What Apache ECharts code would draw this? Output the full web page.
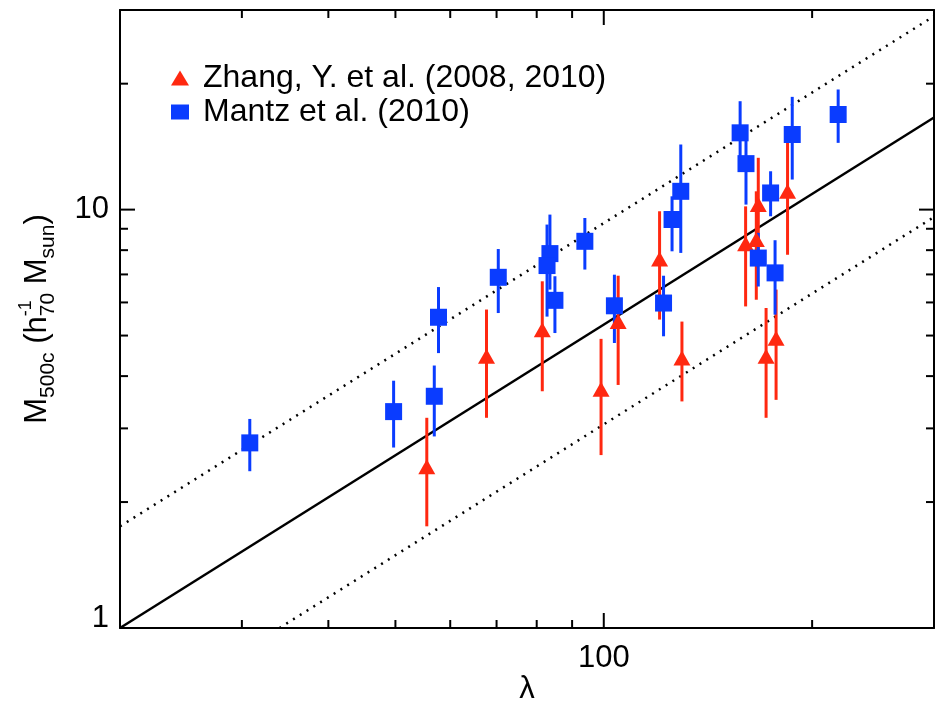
<!DOCTYPE html>
<html><head><meta charset="utf-8">
<script src="https://cdn.jsdelivr.net/npm/echarts@6/dist/echarts.min.js"></script>
<style>html,body{margin:0;padding:0;background:#fff}#c{width:945px;height:709px}</style>
</head><body><div id="c"></div>
<script>
// ---- data ----
const zhangName = 'Zhang, Y. et al. (2008, 2010)';
const mantzName = 'Mantz et al. (2010)';

const zhangLambda = [55.5, 67.7, 81.5, 99.1, 104.9, 120.4, 129.7, 160.3, 167.2, 166.1, 184.3, 171.6, 177.4];
const zhangMass   = [2.43, 4.46, 5.16, 3.72, 5.40, 7.62, 4.42, 8.29, 10.28, 8.48, 11.06, 4.46, 4.93];
const zhangLow    = [1.75, 3.18, 3.68, 2.59, 3.81, 5.46, 3.48, 5.87, 7.80, 6.09, 7.80, 3.18, 3.51];
const zhangHigh   = [3.18, 5.77, 6.74, 4.91, 6.95, 9.91, 5.40, 10.18, 13.3, 11.06, 14.57, 5.82, 6.44];

const mantzLambda = [30.8, 49.7, 56.9, 57.7, 70.4, 83.6, 82.8, 85.0, 93.9, 103.6, 122.0, 125.5, 129.2, 157.4, 160.5, 174.2, 187.2, 218.1, 167.2, 176.8];
const mantzMass   = [2.77, 3.29, 3.58, 5.53, 6.89, 7.85, 7.35, 6.07, 8.40, 5.89, 5.98, 9.47, 11.06, 15.26, 12.88, 10.96, 15.12, 16.88, 7.66, 7.06];
const mantzLow    = [2.37, 2.70, 2.87, 4.54, 5.66, 6.44, 5.55, 5.07, 7.19, 4.80, 4.98, 7.95, 7.88, 13.0, 10.28, 9.64, 11.80, 14.44, 6.55, 5.61];
const mantzHigh   = [3.16, 3.90, 4.24, 6.53, 8.05, 9.73, 9.21, 6.93, 9.55, 6.99, 6.95, 10.76, 14.31, 18.16, 14.71, 12.35, 18.60, 19.37, 8.80, 8.45];

const fitLine   = [[20, 1.0], [300, 16.6]];
const upperLine = [[20, 1.75], [300, 29.0]];
const lowerLine = [[34, 1.0], [300, 9.6]];

const xRange = [20, 300];
const yRange = [1, 30];
const xMajorTicks = [100];
const xMinorTicks = [30, 40, 50, 60, 70, 80, 90, 200];
const yMajorTicks = [10];
const yMinorTicks = [2, 3, 4, 5, 6, 7, 8, 9, 20];

// ---- styles ----
const RED = '#ff2810', BLUE = '#0a3cff';
const FONT = '"Liberation Sans", Helvetica, Arial, sans-serif';
const MAJOR = 15, MINOR = 8;

function isDecade(v) {
  const l = Math.log10(v);
  return Math.abs(l - Math.round(l)) < 1e-6;
}

function buildTitle() {
  const ctx = document.createElement('canvas').getContext('2d');
  const pieces = [
    {t: 'M', size: 31, off: 0},
    {t: '500c', size: 21, off: 1},
    {t: ' (h', size: 31, off: 0},
    {t: '-1', size: 18, off: -1, stack: true},
    {t: '70', size: 21, off: 1},
    {t: ' M', size: 31, off: 0},
    {t: 'sun', size: 21, off: 1},
    {t: ')', size: 31, off: 0}
  ];
  const centers = {'0': 37.5, '1': 48, '-1': 26};
  let pos = 0;
  const children = [];
  pieces.forEach(p => {
    const font = p.size + 'px "Liberation Sans"';
    ctx.font = font;
    const w = ctx.measureText(p.t).width;
    children.push({
      type: 'text', x: pos, y: centers[String(p.off)],
      style: {text: p.t, font: font, fill: '#000', textAlign: 'left', textVerticalAlign: 'middle', align: 'left', verticalAlign: 'middle'}
    });
    if (!p.stack) pos += w;
  });
  return {type: 'group', x: 0, y: 319 + pos / 2, rotation: Math.PI / 2, children: children, silent: true};
}

const chart = echarts.init(document.getElementById('c'), null, {renderer: 'canvas'});

const axisLineStyle = {show: true, onZero: false, lineStyle: {color: '#000', width: 2}};

function errSeries(name, lam, lo, hi, color) {
  return {
    type: 'custom', name: name, silent: true,
    data: lam.map((l, i) => [l, lo[i], hi[i]]),
    encode: {x: 0, y: [1, 2]},
    renderItem: function (params, api) {
      const a = api.coord([api.value(0), api.value(1)]);
      const b = api.coord([api.value(0), api.value(2)]);
      return {type: 'line', shape: {x1: a[0], y1: a[1], x2: b[0], y2: b[1]}, style: {stroke: color, lineWidth: 3}};
    },
    z: 3
  };
}

function xTickSeries(vals, len) {
  return {
    type: 'custom', silent: true,
    data: vals.map(v => [v, 2]),
    encode: {x: 0, y: 1},
    renderItem: function (params, api) {
      const cs = params.coordSys;
      const x = api.coord([api.value(0), 2])[0];
      const st = {stroke: '#000', lineWidth: 2};
      return {type: 'group', children: [
        {type: 'line', shape: {x1: x, y1: cs.y + cs.height, x2: x, y2: cs.y + cs.height - len}, style: st},
        {type: 'line', shape: {x1: x, y1: cs.y, x2: x, y2: cs.y + len}, style: st}
      ]};
    },
    z: 10
  };
}

function yTickSeries(vals, len) {
  return {
    type: 'custom', silent: true,
    data: vals.map(v => [30, v]),
    encode: {x: 0, y: 1},
    renderItem: function (params, api) {
      const cs = params.coordSys;
      const y = api.coord([30, api.value(1)])[1];
      const st = {stroke: '#000', lineWidth: 2};
      return {type: 'group', children: [
        {type: 'line', shape: {x1: cs.x, y1: y, x2: cs.x + len, y2: y}, style: st},
        {type: 'line', shape: {x1: cs.x + cs.width, y1: y, x2: cs.x + cs.width - len, y2: y}, style: st}
      ]};
    },
    z: 10
  };
}

function refLine(data, type) {
  return {
    type: 'line', data: data, showSymbol: false, silent: true,
    lineStyle: {color: '#000', width: 2.5, type: type === 'solid' ? 'solid' : [2, 6]},
    z: 1
  };
}

const option = {
  animation: false,
  backgroundColor: '#fff',
  grid: {left: 120, right: 11, top: 10, bottom: 81, containLabel: false, outerBoundsMode: 'none'},
  legend: {
    orient: 'vertical', left: 166, top: 57, itemWidth: 18, itemHeight: 15, itemGap: 2,
    textStyle: {fontSize: 32, color: '#000', fontFamily: FONT, padding: [0, 0, 0, 9]},
    data: [{name: zhangName, icon: 'triangle'}, {name: mantzName, icon: 'rect'}],
    selectedMode: false
  },
  xAxis: [
    {
      type: 'log', logBase: 10, min: xRange[0], max: xRange[1], position: 'bottom',
      axisLine: axisLineStyle, axisTick: {show: false}, splitLine: {show: false},
      axisLabel: {fontSize: 31, color: '#000', fontFamily: FONT, margin: 15,
        formatter: v => isDecade(v) ? String(Math.round(v)) : ''},
      name: 'λ', nameLocation: 'middle', nameGap: 46, nameMoveOverlap: false,
      nameTextStyle: {fontSize: 31, color: '#000', fontFamily: FONT}
    },
    {
      type: 'log', logBase: 10, min: xRange[0], max: xRange[1], position: 'top',
      axisLine: axisLineStyle, axisTick: {show: false}, splitLine: {show: false}, axisLabel: {show: false}
    }
  ],
  yAxis: [
    {
      type: 'log', logBase: 10, min: yRange[0], max: yRange[1], position: 'left',
      axisLine: axisLineStyle, axisTick: {show: false}, splitLine: {show: false},
      axisLabel: {fontSize: 31, color: '#000', fontFamily: FONT, margin: 11,
        formatter: v => isDecade(v) ? (Math.round(v) === 1 ? '{lo|1}' : String(Math.round(v))) : '',
        rich: {lo: {fontSize: 31, color: '#000', fontFamily: FONT, padding: [0, 0, 20, 0]}}}
    },
    {
      type: 'log', logBase: 10, min: yRange[0], max: yRange[1], position: 'right',
      axisLine: axisLineStyle, axisTick: {show: false}, splitLine: {show: false}, axisLabel: {show: false}
    }
  ],
  graphic: [buildTitle()],
  series: [
    refLine(fitLine, 'solid'),
    refLine(upperLine, 'dotted'),
    refLine(lowerLine, 'dotted'),
    errSeries('zhangErr', zhangLambda, zhangLow, zhangHigh, RED),
    {
      type: 'scatter', name: zhangName, symbol: 'triangle', symbolSize: [17, 15],
      data: zhangLambda.map((l, i) => [l, zhangMass[i]]),
      itemStyle: {color: RED, opacity: 1}, z: 4
    },
    errSeries('mantzErr', mantzLambda, mantzLow, mantzHigh, BLUE),
    {
      type: 'scatter', name: mantzName, symbol: 'rect', symbolSize: 17,
      data: mantzLambda.map((l, i) => [l, mantzMass[i]]),
      itemStyle: {color: BLUE, opacity: 1}, z: 5
    },
    xTickSeries(xMajorTicks, MAJOR),
    xTickSeries(xMinorTicks, MINOR),
    yTickSeries(yMajorTicks, MAJOR),
    yTickSeries(yMinorTicks, MINOR)
  ]
};
chart.setOption(option);
</script>
</body></html>
